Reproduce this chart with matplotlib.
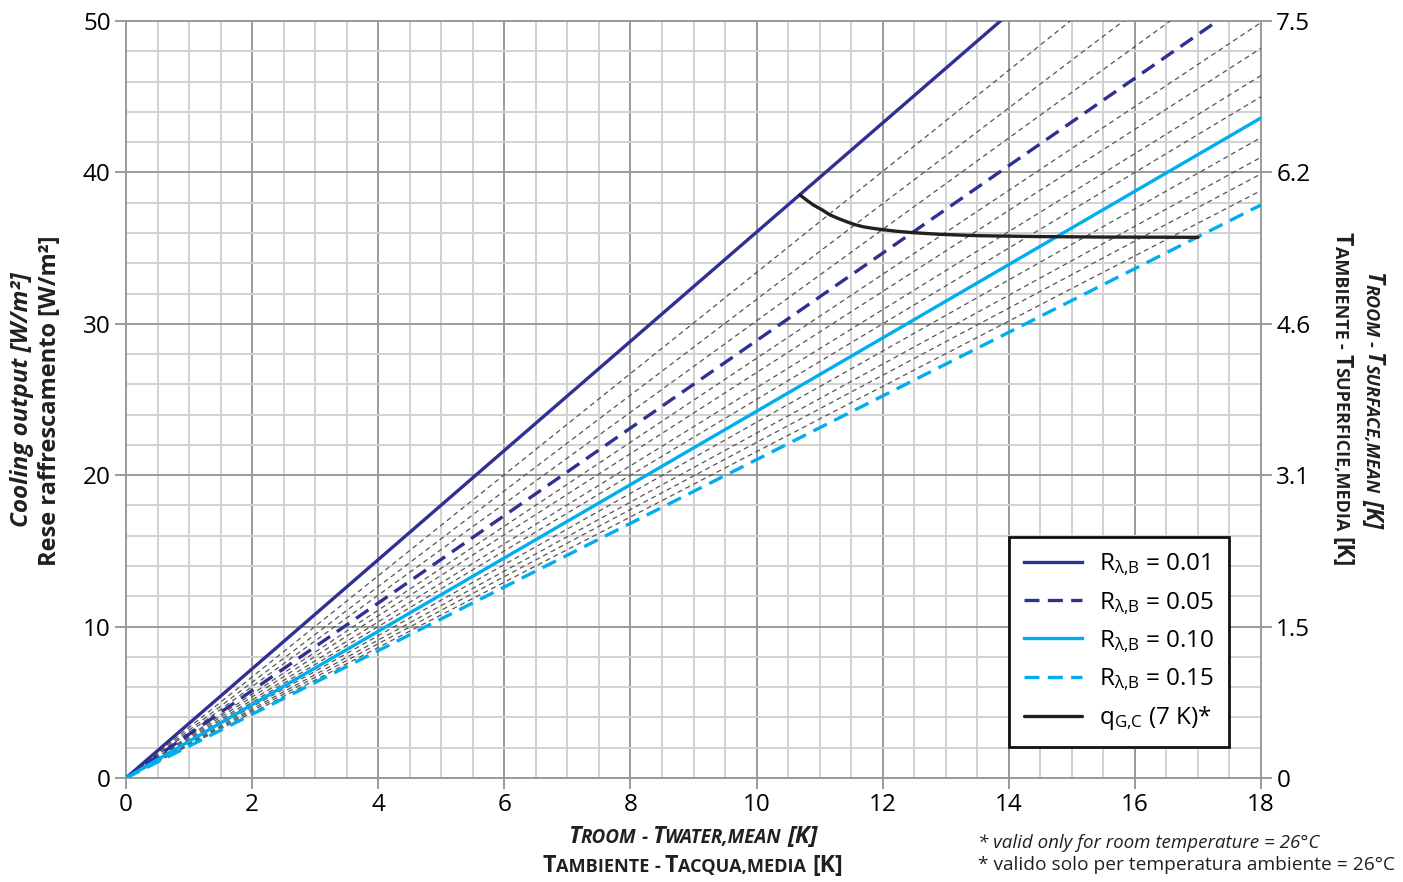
import matplotlib
matplotlib.use('Agg')
import matplotlib.pyplot as plt
from matplotlib.font_manager import FontProperties
from matplotlib.ticker import MultipleLocator

plt.rcParams['font.family'] = ['Open Sans', 'DejaVu Sans']
plt.rcParams['mathtext.fontset'] = 'custom'
plt.rcParams['mathtext.rm'] = 'Open Sans'
plt.rcParams['mathtext.it'] = 'Open Sans:italic'

# --- data ---
dt_range = [0, 18]                       # T_room - T_water,mean [K]
main_r = ['0.01', '0.05', '0.10', '0.15']
main_q_at_18 = [64.9, 52.0, 43.6, 37.85]  # cooling output at dT = 18 K (clipped at 50)
grey_q_at_18 = [60.1, 56.9, 54.35, 49.9, 48.2, 46.4, 45.0, 42.3, 41.0, 39.9, 38.8]

qgc_dt = [10.69, 10.80, 10.90, 11.05, 11.16, 11.30, 11.43, 11.56, 11.69, 11.82, 11.96,
          12.20, 12.48, 12.91, 13.5, 14.5, 15.5, 16.5, 17.0]
qgc_q = [38.5, 38.15, 37.85, 37.5, 37.2, 36.95, 36.74, 36.55, 36.41, 36.32, 36.24,
         36.12, 36.02, 35.91, 35.82, 35.76, 35.73, 35.72, 35.71]

right_ticks = [0, 10, 20, 30, 40, 50]
right_labels = ['0', '1.5', '3.1', '4.6', '6.2', '7.5']

DARK = '#2e3192'
CYAN = '#00aeef'
W, H = 1403, 882

fig = plt.figure(figsize=(W / 100, H / 100), dpi=100)
ax = fig.add_axes([126 / W, 1 - 778 / H, (1261 - 126) / W, (778 - 21) / H])

# thin grey fan of intermediate R values
for q in grey_q_at_18:
    ax.plot(dt_range, [0, q], color='#555555', lw=0.9, ls=(0, (4, 3)), zorder=3)

styles = [(DARK, '-'), (DARK, (0, (4.5, 2.5))), (CYAN, '-'), (CYAN, (0, (4.5, 2.5)))]
for (col, ls), q, r in zip(styles, main_q_at_18, main_r):
    ax.plot(dt_range, [0, q], color=col, lw=2.4, ls=ls, zorder=4,
            label=r'$\mathregular{R_{λ{,}B}}$ = ' + r)
ax.plot(qgc_dt, qgc_q, color='#231f20', lw=2.4, zorder=5, solid_capstyle='round',
        solid_joinstyle='round', label=r'$\mathregular{q_{G{,}C}}$ (7 K)*')

ax.set_xlim(0, 18)
ax.set_ylim(0, 50)
ax.xaxis.set_major_locator(MultipleLocator(2))
ax.xaxis.set_minor_locator(MultipleLocator(0.5))
ax.yaxis.set_major_locator(MultipleLocator(10))
ax.yaxis.set_minor_locator(MultipleLocator(2))
ax.grid(which='minor', color='#d2d2d2', lw=1.4, zorder=0)
ax.grid(which='major', color='#9a9a9a', lw=1.4, zorder=1)
ax.set_axisbelow(True)
for s in ax.spines.values():
    s.set_color('#9a9a9a')
    s.set_linewidth(1.4)
ax.tick_params(which='major', length=8, width=1.4, color='#9a9a9a', labelsize=17.5, pad=3)
ax.tick_params(which='minor', length=0)

ax2 = ax.twinx()
ax2.set_ylim(0, 50)
ax2.set_yticks(right_ticks)
ax2.set_yticklabels(right_labels)
ax2.tick_params(length=8, width=1.4, color='#9a9a9a', labelsize=17.5, pad=3)
for s in ax2.spines.values():
    s.set_visible(False)

leg = ax.legend(loc='lower right', bbox_to_anchor=(0.972, 0.041), fontsize=17.5,
                frameon=True, fancybox=False, edgecolor='#111111', framealpha=1,
                handlelength=2.4, handletextpad=0.7, labelspacing=0.47,
                borderpad=0.6, borderaxespad=0)
leg.get_frame().set_linewidth(2)
leg.set_zorder(10)

# --- small caps labels ---
fig.canvas.draw()
rend = fig.canvas.get_renderer()


def smallcaps(x, y, pieces, big, small, style='normal', rot=0):
    def prop(sz):
        return FontProperties(family='Open Sans', weight='bold', style=style, size=sz)

    def adv(s, sz):
        p = prop(sz)
        w1 = rend.get_text_width_height_descent(s + '|', p, ismath=False)[0]
        w0 = rend.get_text_width_height_descent('|', p, ismath=False)[0]
        return w1 - w0

    sizes = [big if b else small for _, b in pieces]
    advs = [adv(s, sz) for (s, _), sz in zip(pieces, sizes)]
    total = sum(advs)
    cur = x - total / 2 if rot == 0 else y + total / 2
    for (s, _), sz, a in zip(pieces, sizes, advs):
        if s.strip():
            if rot == 0:
                fig.text(cur / W, y / H, s, fontproperties=prop(sz), ha='left',
                         va='baseline', color='#231f20')
            else:
                fig.text(x / W, cur / H, s, fontproperties=prop(sz), ha='left',
                         va='baseline', rotation=-90, rotation_mode='anchor',
                         color='#231f20')
        cur = cur + a if rot == 0 else cur - a


def pieces_for(word1, word2):
    return [('T', True), (word1, False), (' ', False), ('-', False), (' ', False),
            ('T', True), (word2, False), (' ', True), ('[K]', True)]


smallcaps(693, H - 843, pieces_for('ROOM', 'WATER,MEAN'), 17.2, 13.6, style='italic')
smallcaps(693, H - 872, pieces_for('AMBIENTE', 'ACQUA,MEDIA'), 16.7, 13.1)
smallcaps(1366, H - 400, pieces_for('ROOM', 'SURFACE,MEAN'), 16.5, 13, style='italic', rot=-90)
smallcaps(1335, H - 400, pieces_for('AMBIENTE', 'SUPERFICIE,MEDIA'), 16.5, 13, rot=-90)

fig.text(22 / W, 1 - 400 / H, 'Cooling output [W/m²]', rotation=90, ha='center',
         va='center', fontsize=17.5, fontweight='bold', style='italic', color='#231f20')
fig.text(50 / W, 1 - 401 / H, 'Rese raffrescamento [W/m²]', rotation=90, ha='center',
         va='center', fontsize=17, fontweight='bold', color='#231f20')

fig.text(978 / W, 1 - 848 / H, '* valid only for room temperature = 26°C',
         fontsize=13.5, style='italic', va='baseline', ha='left', color='#231f20')
fig.text(978 / W, 1 - 870 / H, '* valido solo per temperatura ambiente = 26°C',
         fontsize=13.8, va='baseline', ha='left', color='#231f20')

fig.savefig('out.png', dpi=100)
